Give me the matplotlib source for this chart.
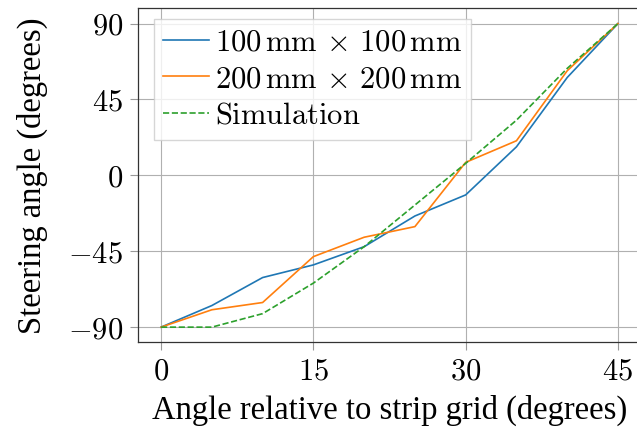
import matplotlib
matplotlib.use("Agg")
import matplotlib.pyplot as plt
from matplotlib.ticker import FuncFormatter

plt.rcParams['mathtext.fontset'] = 'cm'
plt.rcParams['font.family'] = ['Liberation Serif', 'DejaVu Serif']

angle = [0, 5, 10, 15, 20, 25, 30, 35, 40, 45]
steer_100 = [-90, -77.2, -60.6, -53.1, -42.3, -24.1, -11.6, 16.9, 58, 90]
steer_200 = [-90, -79.7, -75.4, -48.2, -36.7, -30.4, 7.7, 20.5, 62, 90]
steer_sim = [-90, -90, -82, -63.9, -42.3, -17.6, 7.1, 32.7, 63.4, 90]

labels = [r"$100\,\mathrm{mm}\,\times\,100\,\mathrm{mm}$",
          r"$200\,\mathrm{mm}\,\times\,200\,\mathrm{mm}$",
          r"$\mathrm{Simulation}$"]

fig = plt.figure(figsize=(6.37, 4.40), dpi=100)
ax = fig.add_axes([0.217, 0.222, 0.789, 0.759])

ax.plot(angle, steer_100, color='tab:blue', lw=1.2, label=labels[0])
ax.plot(angle, steer_200, color='tab:orange', lw=1.2, label=labels[1])
ax.plot(angle, steer_sim, color='tab:green', lw=1.2, ls='--', label=labels[2])

ax.set_xticks([0, 15, 30, 45])
ax.set_yticks([-90, -45, 0, 45, 90])
ax.xaxis.set_major_formatter(FuncFormatter(lambda v, p: r"$%d$" % v))
ax.yaxis.set_major_formatter(FuncFormatter(lambda v, p: r"$%d$" % v))
ax.set_xlim(-2.25, 47.25)
ax.set_ylim(-99, 99)
ax.grid(True, color='#b0b0b0', lw=0.8)
ax.set_axisbelow(True)
ax.tick_params(labelsize=22, color='#999999', length=6, width=0.8, pad=5)
for s in ax.spines.values():
    s.set_color('#333333')
    s.set_linewidth(0.9)

ax.set_xlabel("Angle relative to strip grid (degrees)", fontsize=23.5, labelpad=6)
ax.set_ylabel("Steering angle (degrees)", fontsize=23.5, labelpad=14)

ax.legend(loc='upper left', fontsize=22, handlelength=1.5, handletextpad=0.2,
          borderpad=0.3, labelspacing=0.25, framealpha=0.8, edgecolor='#cccccc',
          fancybox=False, borderaxespad=0, bbox_to_anchor=(0.031, 0.967))

fig.savefig("out.png", dpi=100)
